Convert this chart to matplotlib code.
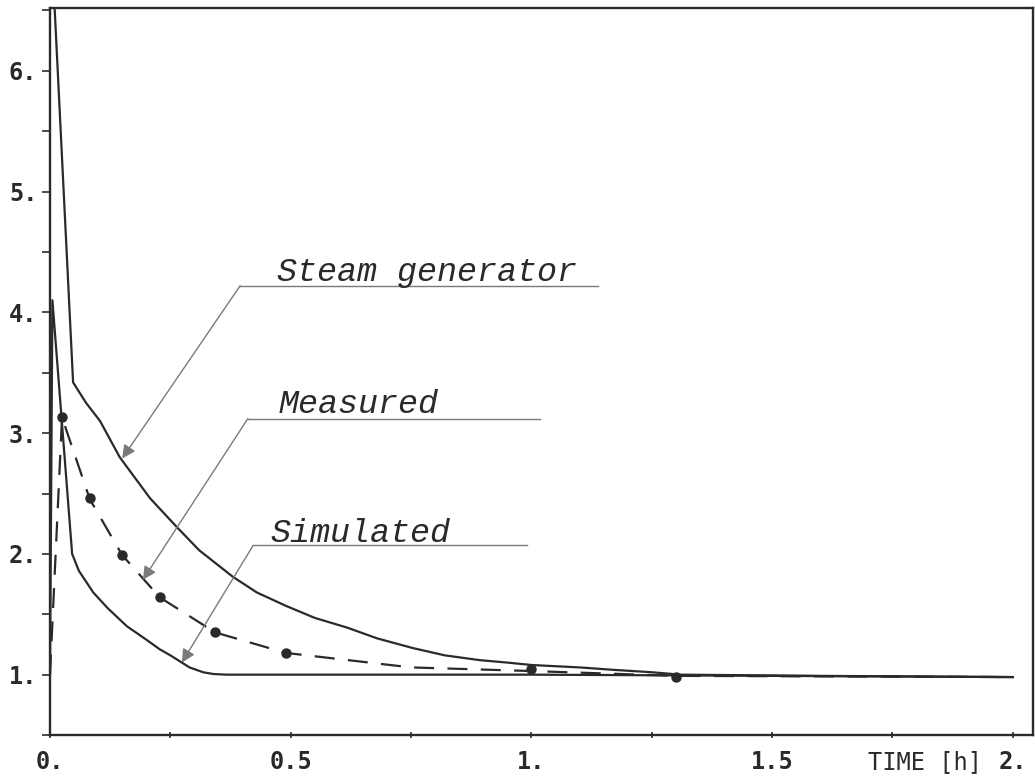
import matplotlib.pyplot as plt
from matplotlib.ticker import MultipleLocator

# time axis in hours
t_steam = [0.0, 0.01, 0.048, 0.075, 0.104, 0.145, 0.208, 0.264, 0.31, 0.38,
           0.43, 0.49, 0.55, 0.617, 0.68, 0.754, 0.82, 0.893, 0.95, 1.0,
           1.1, 1.17, 1.25, 1.31, 1.6, 2.0]
y_steam = [7.2, 6.49, 3.42, 3.25, 3.1, 2.8, 2.46, 2.22, 2.03, 1.81,
           1.68, 1.57, 1.47, 1.39, 1.30, 1.22, 1.16, 1.12, 1.10, 1.08,
           1.06, 1.04, 1.02, 1.0, 0.99, 0.98]

t_sim = [0.0, 0.005, 0.046, 0.06, 0.09, 0.12, 0.16, 0.2, 0.228, 0.25,
         0.27, 0.29, 0.318, 0.34, 0.367, 0.5, 1.0, 1.5, 2.0]
y_sim = [1.0, 4.1, 2.0, 1.86, 1.68, 1.55, 1.40, 1.29, 1.21, 1.16,
         1.11, 1.06, 1.02, 1.005, 1.0, 1.0, 1.0, 0.99, 0.98]

t_meas_line = [0.0, 0.025, 0.083, 0.15, 0.228, 0.343, 0.49, 0.75, 1.0, 1.3, 2.0]
y_meas_line = [1.0, 3.13, 2.45, 1.99, 1.64, 1.35, 1.18, 1.06, 1.03, 0.99, 0.98]

t_meas_pts = [0.025, 0.083, 0.15, 0.228, 0.343, 0.49, 1.0, 1.3]
y_meas_pts = [3.13, 2.46, 1.99, 1.64, 1.35, 1.18, 1.05, 0.98]

y_ticks = [1, 2, 3, 4, 5, 6]
y_labels = ["1.", "2.", "3.", "4.", "5.", "6."]
x_ticks = [0.0, 0.5, 1.0, 1.5, 2.0]
x_labels = ["0.", "0.5", "1.", "1.5", "2."]

ink = "#2a2a2a"
pen = "#7a7a7a"

fig = plt.figure(figsize=(10.35, 7.77), dpi=100)
ax = fig.add_axes([0.0483, 0.054, 0.9497, 0.9357])

ax.plot(t_steam, y_steam, color=ink, lw=1.6)
ax.plot(t_sim, y_sim, color=ink, lw=1.6)
ax.plot(t_meas_line, y_meas_line, color=ink, lw=1.6, linestyle=(0, (9, 6)))
ax.plot(t_meas_pts, y_meas_pts, "o", color=ink, ms=6.5, mec=ink)

ax.set_xlim(0, 2.042)
ax.set_ylim(0.5, 6.52)

for side in ax.spines.values():
    side.set_linewidth(1.7)
    side.set_color(ink)

ax.yaxis.set_minor_locator(MultipleLocator(0.5))
ax.xaxis.set_minor_locator(MultipleLocator(0.25))
ax.set_yticks(y_ticks, y_labels)
ax.set_xticks(x_ticks, x_labels)
ax.tick_params(axis="y", which="both", direction="out", length=6, width=1.2,
               color=ink, pad=3)
ax.tick_params(axis="x", which="both", direction="inout", length=5, width=1.2,
               color=ink, pad=8)
for lab in ax.get_xticklabels() + ax.get_yticklabels():
    lab.set_family("DejaVu Sans Mono")
    lab.set_fontsize(17)
    lab.set_fontweight("bold")
    lab.set_color(ink)

ax.text(1.817, -0.037, "TIME [h]", transform=ax.get_xaxis_transform(),
        ha="center", va="center", family="DejaVu Sans Mono", fontsize=17,
        color=ink)

# labelled leader lines: text, underline, arrow to the curve
notes = [
    ("Steam generator", 0.471, 4.26, 0.395, 1.138, 4.22, (0.150, 2.79)),
    ("Measured", 0.474, 3.17, 0.411, 1.018, 3.12, (0.193, 1.785)),
    ("Simulated", 0.457, 2.10, 0.422, 0.990, 2.07, (0.274, 1.10)),
]
for text, tx, ty, x0, x1, yl, tip in notes:
    ax.text(tx, ty, text, family="Liberation Mono", style="italic",
            fontsize=24, color=ink, ha="left", va="baseline")
    ax.plot([x0, x1], [yl, yl], color=pen, lw=1.0)
    ax.annotate("", xy=tip, xytext=(x0, yl),
                arrowprops=dict(arrowstyle="-|>", color=pen, lw=1.0,
                                mutation_scale=20, shrinkA=0, shrinkB=0))

fig.savefig("out.png", dpi=100)
